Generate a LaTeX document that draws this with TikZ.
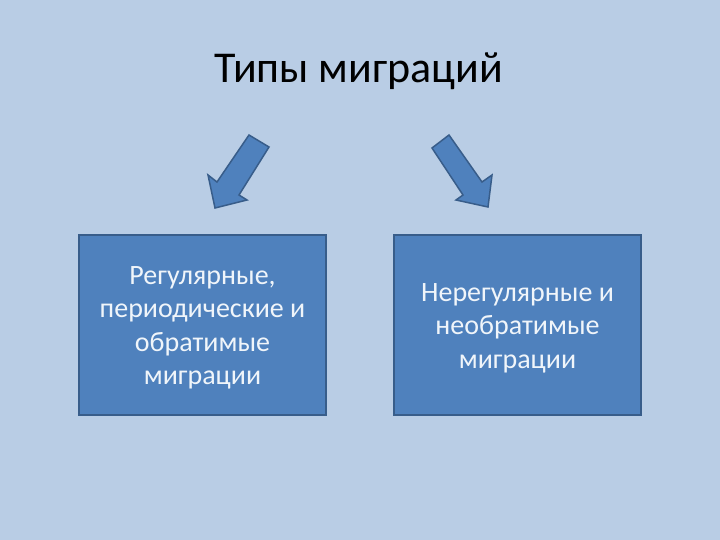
\documentclass[tikz,border=0pt]{standalone}
\usepackage{fontspec}
\setmainfont{Carlito}
\definecolor{bg}{HTML}{B9CDE5}
\definecolor{boxfill}{HTML}{4F81BD}
\definecolor{boxline}{HTML}{385D8A}
\definecolor{boxtext}{HTML}{F0F5FA}
\tikzset{
  typebox/.style={draw=boxline, line width=1.8pt, fill=boxfill, minimum width=247pt, minimum height=180pt, inner sep=0pt},
  boxlabel/.style={text=boxtext, align=center, font=\fontsize{28}{33.5}\selectfont},
  blockarrow/.style={draw=boxline, line width=1.5pt, fill=boxfill, line join=miter}
}
\begin{document}
\begin{tikzpicture}[x=1pt,y=-1pt]
\fill[bg] (0,0) rectangle (720,540);
\useasboundingbox (0,0) rectangle (720,540);
\node[font=\fontsize{44}{50}\selectfont, anchor=base] (title) at (359,83) {Типы миграций};
\node[typebox] (left) at (202.5,325) {};
\node[typebox] (right) at (517.5,325) {};
\node[boxlabel] (lefttext) at (202.5,328) {Регулярные,\\периодические и\\обратимые\\миграции};
\node[boxlabel] (righttext) at (517.5,328) {Нерегулярные и\\необратимые\\миграции};
\draw[blockarrow] (249,135) -- (269,147) -- (239,195) -- (247,200) -- (215,208) -- (208,175) -- (217,182) -- cycle;
\draw[blockarrow] (449,135) -- (432,148) -- (463,195) -- (456,200) -- (488,207) -- (492,175) -- (482,182) -- cycle;
\end{tikzpicture}
\end{document}
